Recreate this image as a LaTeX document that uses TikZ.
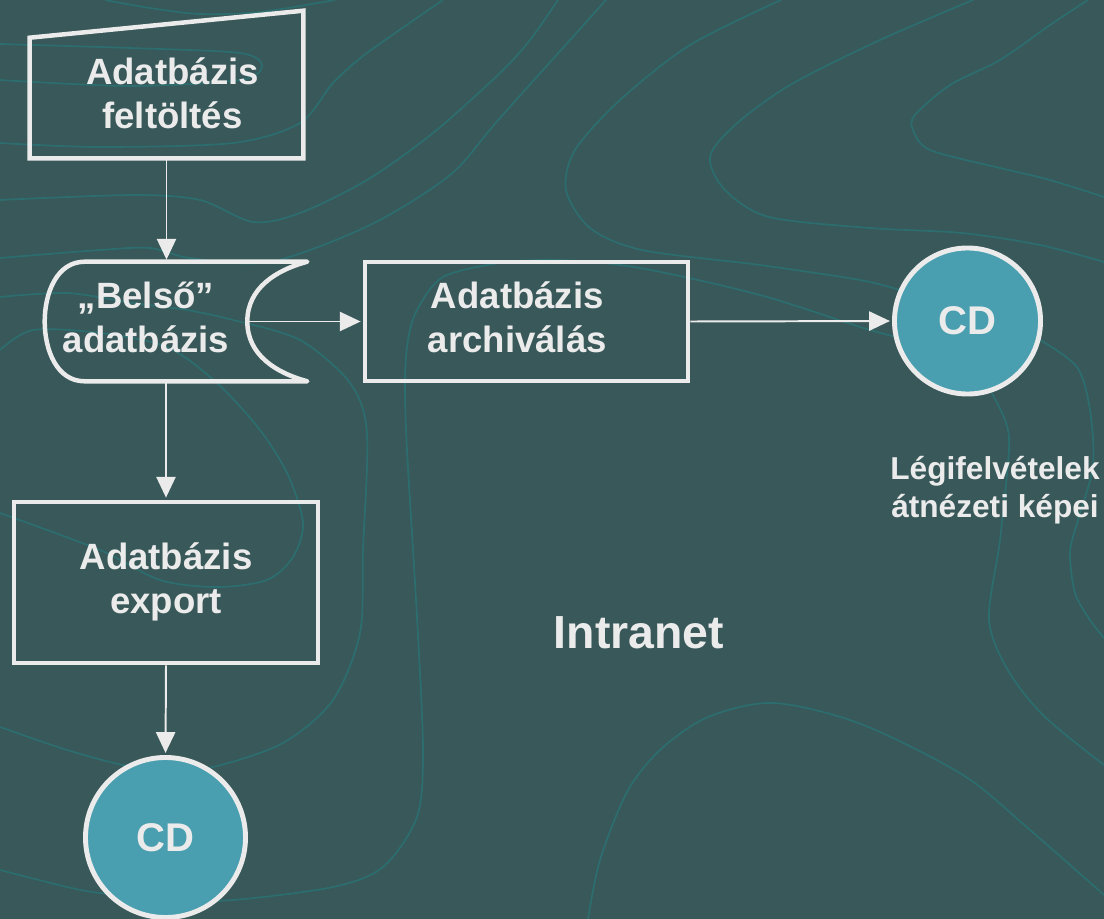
\documentclass[tikz,border=0pt]{standalone}
\usepackage{fontspec}
\setmainfont{Liberation Sans}
\usetikzlibrary{arrows.meta,calc}

\definecolor{slide}{RGB}{57,88,89}
\definecolor{contour}{RGB}{44,110,111}
\definecolor{ink}{RGB}{235,235,235}
\definecolor{disc}{RGB}{73,159,176}

\newcommand\celltext[3]{\raisebox{#2}{\hspace*{#1}\begin{tabular}{@{}c@{}}#3\end{tabular}\hspace*{-#1}}}

\tikzset{
  cell/.style={rectangle, inner sep=0pt, text=ink, font=\fontsize{26}{31.3}\selectfont\bfseries},
  frame/.style={draw=ink, line width=3.2pt},
  disk/.style={circle, draw=ink, fill=disc, line width=3.5pt, inner sep=0pt, text=ink,
    font=\fontsize{28.5}{32}\selectfont\bfseries},
  flow/.style={draw=ink, line width=1.4pt, shorten >=1.5pt, -{Triangle[length=0.52cm,width=0.48cm]}},
  topo/.style={draw=contour, line width=1.2pt},
  note/.style={inner sep=0pt, text=ink, font=\fontsize{22.5}{27}\selectfont\bfseries},
}

\begin{document}
\begin{tikzpicture}[x=0.025cm,y=0.025cm]
\fill[slide] (0,0) rectangle (1104,-919);
\useasboundingbox (0,0) rectangle (1104,-919);

% contour lines in the background
\begin{scope}
\clip (0,0) rectangle (1104,-919);
\draw[topo] plot[smooth] coordinates {(105,0) (150,-8) (200,-14) (260,-12) (335,0)};
\draw[topo] plot[smooth] coordinates {(0,-44) (130,-48) (240,-53) (262,-66) (240,-80) (130,-86) (0,-80)};
\draw[topo] plot[smooth] coordinates {(0,-143) (100,-147) (233,-143) (300,-123) (333,-83) (367,-53) (443,0)};
\draw[topo] plot[smooth] coordinates {(0,-200) (133,-195) (200,-200) (253,-222) (300,-213) (367,-180) (433,-133) (500,-73) (530,-40) (558,0)};
\draw[topo] plot[smooth] coordinates {(0,-258) (100,-250) (150,-248) (190,-258) (270,-262) (370,-225) (450,-175) (500,-118) (606,0)};
\draw[topo] plot[smooth] coordinates {(0,-297) (67,-293) (133,-303) (187,-310) (233,-320) (300,-340) (350,-383) (367,-433) (363,-550) (360,-633) (333,-700) (283,-743) (213,-767) (165,-770) (123,-765) (67,-750) (0,-727)};
\draw[topo] plot[smooth] coordinates {(0,-350) (33,-330) (100,-333) (167,-347) (217,-383) (260,-430) (288,-475) (303,-523) (293,-557) (267,-580) (217,-587) (160,-580) (100,-550) (0,-513)};
\draw[topo] plot[smooth] coordinates {(0,-870) (67,-887) (100,-893) (165,-900) (233,-900) (333,-887) (383,-867) (417,-817) (423,-750) (417,-617) (407,-450) (405,-380) (408,-340) (417,-310) (443,-277) (500,-263) (560,-260) (640,-268) (760,-295) (860,-327) (900,-338)};
\draw[topo] plot[smooth] coordinates {(781,0) (690,-45) (620,-100) (575,-150) (566,-190) (590,-228) (642,-250) (760,-265) (860,-280) (900,-290)};
\draw[topo] plot[smooth] coordinates {(973,0) (880,-40) (790,-85) (735,-125) (710,-157) (725,-190) (769,-217) (870,-228) (962,-233) (1040,-245) (1104,-262)};
\draw[topo] plot[smooth] coordinates {(1088,0) (1050,-25) (1000,-60) (950,-85) (915,-115) (913,-130) (930,-150) (1000,-168) (1050,-180) (1104,-197)};
\draw[topo] plot[smooth] coordinates {(1040,-340) (1077,-367) (1090,-410) (1093,-466) (1078,-520) (1070,-552) (1075,-593) (1090,-620) (1104,-638)};
\draw[topo] plot[smooth] coordinates {(990,-390) (1005,-420) (1009,-449) (1000,-540) (989,-620) (1009,-672) (1045,-717) (1104,-765)};
\draw[topo] plot[smooth] coordinates {(588,-919) (600,-860) (627,-792) (660,-750) (708,-717) (774,-703) (861,-724) (963,-775) (1030,-830) (1104,-895)};
\end{scope}

% flow chart
\node[cell, minimum width=6.825cm, minimum height=3cm] (feltoltes) at (166.5,-98)
  {\celltext{0.15cm}{0.075cm}{Adatbázis\\feltöltés}};
\draw[frame] (feltoltes.south west) -- (feltoltes.south east)
  -- ([yshift=0.675cm]feltoltes.north east) -- (feltoltes.north west) -- cycle;

\node[cell, minimum width=5.05cm, minimum height=2.975cm] (belso) at (146,-321.5)
  {\celltext{0pt}{0pt}{„Belső”\\adatbázis}};
\draw[frame, line join=round] ([xshift=1cm]belso.north west) -- ([xshift=1.5cm]belso.north east)
  to[out=195,in=90] (belso.east) to[out=-90,in=165] ([xshift=1.5cm]belso.south east)
  -- ([xshift=1cm]belso.south west) to[out=180,in=-90] (belso.west)
  to[out=90,in=180] ([xshift=1cm]belso.north west);

\node[cell, frame, minimum width=8.075cm, minimum height=2.975cm] (archivalas) at (526.5,-321.5)
  {\celltext{-0.23cm}{0pt}{Adatbázis\\archiválás}};
\node[cell, frame, minimum width=7.6cm, minimum height=4.025cm] (export) at (166,-582.5)
  {\celltext{0pt}{-0.25cm}{Adatbázis\\export}};

\node[disk, minimum size=3.65cm] (cdarchiv) at (967.5,-321) {CD};
\node[disk, minimum size=4cm] (cdexport) at (165.5,-837.5) {CD};

\node[note] (legi) at (995,-491) {\celltext{0pt}{0pt}{Légifelvételek\\átnézeti képei}};
\node[text=ink, inner sep=0pt, font=\fontsize{33}{38}\selectfont\bfseries] (intranet) at (639,-633) {Intranet};

\draw[flow] (feltoltes.south) -- (feltoltes.south |- belso.north);
\draw[flow] (belso.east) -- (archivalas.west);
\draw[flow] (archivalas.east) -- (cdarchiv.west);
\draw[flow] (belso.south -| export.north) -- (export.north);
\draw[flow] (export.south) -- (cdexport.north);
\end{tikzpicture}
\end{document}
